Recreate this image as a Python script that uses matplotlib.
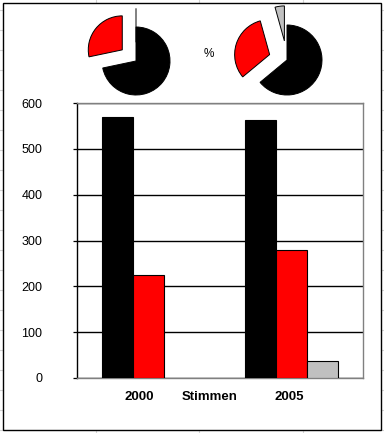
import matplotlib
matplotlib.use("Agg")
import matplotlib.pyplot as plt
from matplotlib.patches import Rectangle
from matplotlib.lines import Line2D

plt.rcParams['font.family'] = ['Liberation Sans', 'DejaVu Sans']

# ---- data ----
years = ["2000", "2005"]
series_colors = ["#000000", "#ff0000", "#c0c0c0"]
votes_2000 = [570, 225, 0]
votes_2005 = [563, 279, 38]
tick_labels = ["2000", "Stimmen", "2005"]
yticks = [0, 100, 200, 300, 400, 500, 600]

W, H = 384, 433
DPI = 100
fig = plt.figure(figsize=(W / DPI, H / DPI), dpi=DPI)
fig.patch.set_facecolor("white")

def fx(px):
    return px / W

def fy(py):
    return 1 - py / H

# spreadsheet background grid
for x in [96, 199, 303]:
    fig.add_artist(Line2D([fx(x), fx(x)], [0, 1], color="#d4d4d4", lw=0.8, zorder=0))
for y in range(10, H, 20):
    fig.add_artist(Line2D([0, 1], [fy(y), fy(y)], color="#d4d4d4", lw=0.8, zorder=0))
# chart area frame
fig.add_artist(Rectangle((fx(2.5), fy(430)), fx(380.5) - fx(2.5), fy(2.5) - fy(430),
                         facecolor="white", edgecolor="black", lw=1.0, zorder=0.5))

# ---- bar chart ----
ax = fig.add_axes([fx(77), fy(378), fx(363) - fx(77), fy(103) - fy(378)])
ax.set_zorder(2)
ax.patch.set_alpha(0)
unit = 143.0
w = 31.0 / unit
groups = [votes_2000, votes_2005]
for g, vals in enumerate(groups):
    for k, v in enumerate(vals):
        if v > 0:
            ax.bar(g + (k - 1) * w, v, width=w, color=series_colors[k],
                   edgecolor="black", linewidth=0.8, zorder=3)
ax.set_xlim((77 - 148) / unit, (363 - 148) / unit)
ax.set_ylim(0, 600)
ax.set_yticks(yticks)
ax.set_yticklabels([str(t) for t in yticks], fontsize=9)
ax.tick_params(axis="y", length=3, width=0.9, pad=22, direction="out")
ax.yaxis.grid(True, color="black", lw=1.0, zorder=1)
label_pos = [(139 - 148) / unit, (210 - 148) / unit, (289 - 148) / unit]
ax.set_xticks(label_pos)
ax.set_xticklabels(tick_labels, fontsize=9.5, fontweight="bold")
ax.tick_params(axis="x", length=0, pad=9)
for s in ["top", "right", "bottom"]:
    ax.spines[s].set_color("#808080")
    ax.spines[s].set_linewidth(1.0)
ax.spines["left"].set_color("black")
ax.spines["left"].set_linewidth(1.0)
ax.set_axisbelow(True)

# ---- pies ----
def add_pie(cx, cy, r, vals):
    L = 1.65
    size = 2 * L * r
    pax = fig.add_axes([fx(cx - size / 2), fy(cy + size / 2), size / W, size / H])
    pax.set_zorder(3)
    explode = [0, 0.52, 0.55]
    pax.pie(vals, colors=series_colors, startangle=90, counterclock=False,
            explode=explode, wedgeprops=dict(edgecolor="black", linewidth=0.7))
    pax.set_xlim(-L, L)
    pax.set_ylim(-L, L)
    pax.set_aspect("equal")
    pax.axis("off")

add_pie(136, 61, 34, votes_2000)
add_pie(287, 60, 35, votes_2005)

fig.text(fx(209), fy(54), "%", fontsize=8.5, ha="center", va="center")

fig.savefig("out.png", dpi=DPI)
